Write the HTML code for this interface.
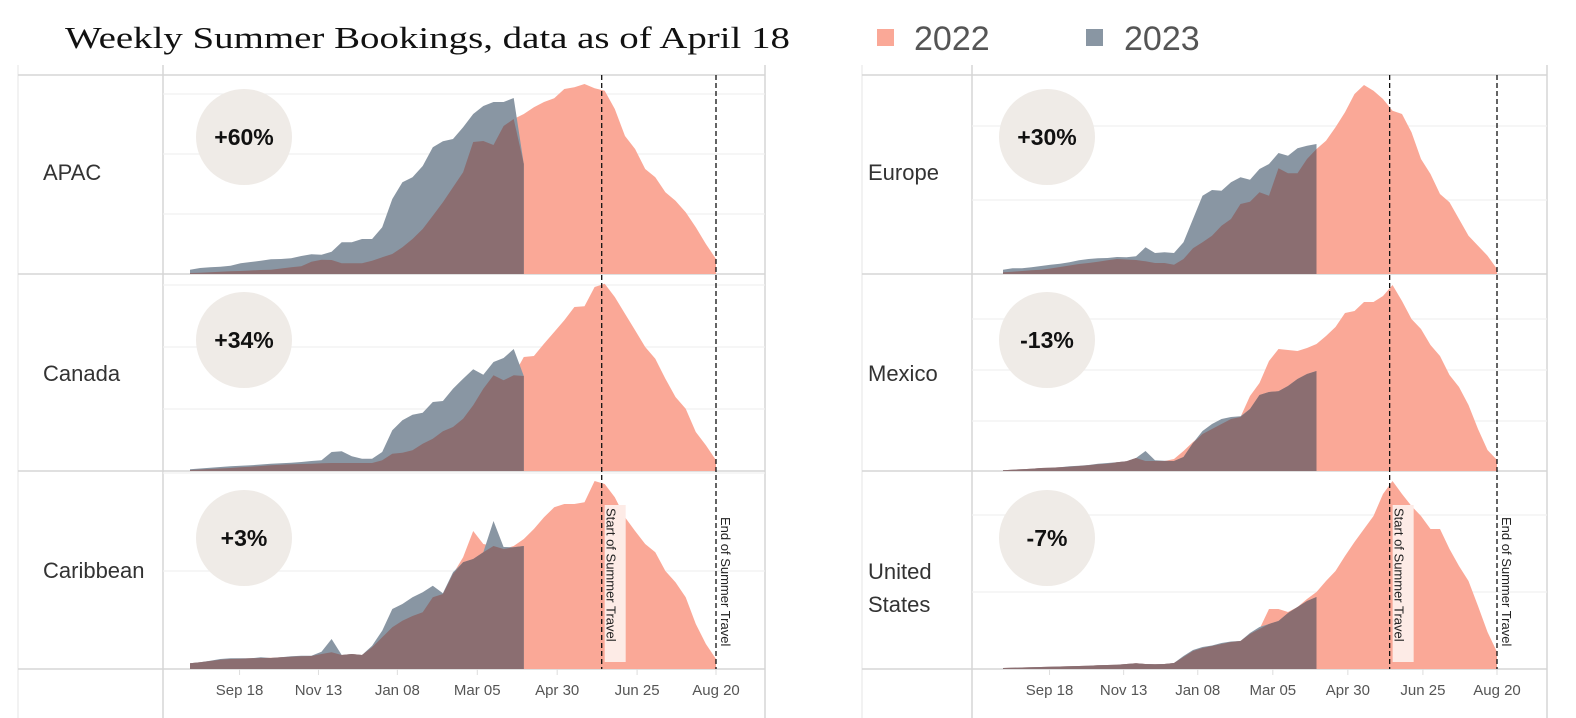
<!DOCTYPE html>
<html><head><meta charset="utf-8"><style>
html,body{margin:0;padding:0;background:#fff;}
svg{display:block;font-family:"Liberation Sans",sans-serif;}
</style></head><body>
<svg id="chart" width="1576" height="718" viewBox="0 0 1576 718" xmlns="http://www.w3.org/2000/svg">
<text x="65" y="48" font-family="'Liberation Serif',serif" font-size="31" fill="#111" textLength="725" lengthAdjust="spacingAndGlyphs">Weekly Summer Bookings, data as of April 18</text>
<g>
<rect x="877" y="29" width="17" height="17" fill="#faa897"/>
<text x="914" y="50" font-size="34" fill="#555">2022</text>
<rect x="1086" y="29" width="17" height="17" fill="#8996a3"/>
<text x="1124" y="50" font-size="34" fill="#555">2023</text>
</g>
<g id="plots"></g>
</svg>
<script>
const regionNames = ["APAC","Canada","Caribbean","Europe","Mexico","United States"];
const pctChange = ["+60%","+34%","+3%","+30%","-13%","-7%"];
const tickLabels = ["Sep 18","Nov 13","Jan 08","Mar 05","Apr 30","Jun 25","Aug 20"];
const tickWeeks = [4.9,12.7,20.5,28.4,36.3,44.2,52];
const startWeek = 40.7;
const endWeek = 52;
const apac2022 = [1,1.3,1.7,2.2,2.7,3,3.5,4,4.3,5.5,6.7,7.7,12.3,14.3,14,10.7,10.7,10.7,13.3,16.7,20,26.7,35,45,58.3,71.7,86.7,101.7,132,133,129,148,155,160,166.7,172,175.7,185,186.7,190,185.7,183.3,165,138,125,105,96.7,81.7,73.3,61.7,46.7,30,15];
const apac2023 = [4.3,6,6.7,7.3,8.3,10.7,12,13.3,14.7,15,15.7,18,19.7,19.3,22.3,31.7,31.7,35,35,46.7,75,91.7,96.7,108,126.7,132.7,135,146.7,160,168,172,172,176,110];
const canada2022 = [1,1.5,2,2.5,3,3.7,4.3,5,5.7,6.2,6.7,7,7.3,7.7,8,8,8,8,8,10.7,17.3,18.3,20.7,27.3,32.3,39.7,44,52.3,65.7,82.3,95.7,90.7,95.7,114,115,127.3,139,150.7,164,164.7,184,187.3,174,157.3,140.7,124,112.3,92.3,74,62.3,39,25.7,10.7];
const canada2023 = [1.7,2.5,3.3,4,4.7,5.2,5.7,6.5,7.3,7.8,8.3,9,10,10.7,19,19.7,14.7,12.3,12.3,19,40.7,50.7,56.3,58.3,69,70,82.3,92.3,101.7,96.3,109,113,122,95];
const carib2022 = [5.7,6.7,8,9.3,10,10.3,10.7,11,11.3,11.7,12.3,12.7,13,15,16.7,14,15,14,21.7,31.7,41.7,48.3,53,56.7,71.7,75,95,111.7,138,125,123,120,123,130,140,151.7,161.7,165,165,166.7,188,185,171.7,151.7,138,125,116.7,98,86.7,71.7,45,25,10];
const carib2023 = [5.7,6.7,8.3,10,10.7,10.7,10.7,11.7,11,11.7,12.7,13.3,13.3,17.3,30,14,15,14,23.3,38.3,60,65,71.7,76.7,83.3,75.7,96.7,106.7,110,116.7,148,122,121.7,123];
const europe2022 = [1.7,2.3,3,3.7,4.3,5.5,7,8.5,10,11,12.3,13.7,15,14.5,14,12.7,11,11,9.3,15,25.7,31.7,38.3,48.3,55,70,72.3,81.7,78.3,105.7,100.7,100.7,115,125,133.3,146.7,161.7,180,189,183.3,175,163.3,160,141.7,115,100,80,71.7,55,38.3,28.3,18.3,5];
const europe2023 = [4.3,5.7,5.7,6.7,8,9.3,10.3,11.7,13.7,15,15.7,16,17,16.7,17.7,26.7,21,21.7,21,31.7,55,78.3,84,83.3,91.7,96.7,94.3,105,110,121,118.3,125.7,128.3,130];
const mexico2022 = [0.7,1.3,1.7,2.3,3,3.3,3.7,4.3,5,5.7,6.7,7.3,8.7,9.7,13,10,10,10,12,20,29,37,42,47,52,54,75,88,110,122,121,120,123,127,135,144,158,160,169,169,175,186,170,152,142,126,115,96,84,66,42,21,11];
const mexico2023 = [0.7,1.3,1.7,2.3,3,3.3,3.7,4.7,5.3,6,7.3,8,8.7,9.7,13,20,10.7,10.3,10,14,28,40,47,52,54,54.7,62,76,79,79.7,85,92,97,100];
const us2022 = [1,1.2,1.5,1.7,2,2.2,2.5,2.8,3,3.3,3.7,4,4.3,5,5.7,5,4.7,5,6,12,18,21,23,25,27,28,35,40,60,60,57,62,70,77,88,98,113,127,140,153,175,188,175,163,153,140,140,120,103,88,63,37,17];
const us2023 = [1,1.2,1.5,1.7,2,2.2,2.5,2.8,3,3.3,3.7,4,4.3,5,5.7,5,4.7,5,6,13,19,22,23.5,26,27.5,28,36,42,45,48,56,62,68,72];
const gridApac = [60,120,180];
const gridCanada = [62,124,186];
const gridCarib = [98,196];
const gridEurope = [74,148];
const gridMexico = [50,101,152];
const gridUs = [77,154];

const NS = "http://www.w3.org/2000/svg";
const root = document.getElementById("plots");
function mk(tag, attrs, parent){ const e=document.createElementNS(NS,tag); for(const k in attrs) e.setAttribute(k,attrs[k]); (parent||root).appendChild(e); return e; }

const panels = [
  {outer:18, axis:163, right:765, x0:190, x1:716, labelX:43, circleX:244},
  {outer:862, axis:972, right:1547, x0:1003, x1:1497, labelX:868, circleX:1047}
];
const rowTops = [75, 274, 471];
const rowBases = [274, 471, 669];
const rows = [
  {p:0,r:0,a:apac2022,b:apac2023,g:gridApac},
  {p:0,r:1,a:canada2022,b:canada2023,g:gridCanada},
  {p:0,r:2,a:carib2022,b:carib2023,g:gridCarib},
  {p:1,r:0,a:europe2022,b:europe2023,g:gridEurope},
  {p:1,r:1,a:mexico2022,b:mexico2023,g:gridMexico},
  {p:1,r:2,a:us2022,b:us2023,g:gridUs}
];
const circleYs = [137,340,538];
const labelYs = [180,381,578];

function xScale(P, w){ return P.x0 + (P.x1-P.x0)*w/52; }
function yScale(base, v){ return base - v; }

function areaPath(P, base, vals){
  let d = "M"+xScale(P,0)+","+base;
  vals.forEach((v,i)=>{ d += " L"+xScale(P,i).toFixed(1)+","+yScale(base,v).toFixed(1); });
  d += " L"+xScale(P,vals.length-1).toFixed(1)+","+base+" Z";
  return d;
}

panels.forEach((P,pi)=>{
  const g = mk("g",{});
  
  
  const lc="#d6d6d6";
  [P.axis, P.right].forEach(x=>{ const l=mk("line",{x1:x,y1:65,x2:x,y2:718,stroke:lc,"stroke-width":1.5},g);
    
     });
  const ol=mk("line",{x1:P.outer,y1:65,x2:P.outer,y2:718,stroke:"#e6e6e6","stroke-width":1},g);
  
  
  [75,274,471,669].forEach(y=>{ const l=mk("line",{x1:P.outer,y1:y,x2:P.right,y2:y,stroke:lc,"stroke-width":1.5},g);
    
     });
  tickLabels.forEach((t,i)=>{
    const x = xScale(P,tickWeeks[i]);
    const tk = mk("line",{x1:x,y1:669,x2:x,y2:675,stroke:"#ddd"},g);
    
    
    const tx = mk("text",{x:x,y:695,"text-anchor":"middle","font-size":15,fill:"#555"},g);
    tx.textContent = t;
    
    
  });
});

rows.forEach((R,ri)=>{
  const P = panels[R.p]; const base = rowBases[R.r];
  const g = mk("g",{});
  
  
  R.g.forEach(v=>{ const l=mk("line",{x1:P.axis,y1:yScale(base,v),x2:P.right,y2:yScale(base,v),stroke:"#f0f0f0","stroke-width":1.2},g);
    
     });
  const a = mk("path",{d:areaPath(P,base,R.a),fill:"#faa897"},g);
  
  
  const b = mk("path",{d:areaPath(P,base,R.b),fill:"#8996a3"},g);
  
  
  const mins = R.b.map((v,i)=>Math.min(v,R.a[i]));
  const o = mk("path",{d:areaPath(P,base,mins),fill:"#8b6e71"},g);
  
  
  const c = mk("circle",{cx:P.circleX,cy:circleYs[R.r],r:48,fill:"#efebe7"},g);
  
  
  const ct = mk("text",{x:P.circleX,y:circleYs[R.r]+8,"text-anchor":"middle","font-size":23,"font-weight":"bold",fill:"#111"},g);
  ct.textContent = pctChange[ri];
  
  
  const name = regionNames[ri];
  if(name==="United States"){
    const t1=mk("text",{x:P.labelX,y:labelYs[R.r]+1,"font-size":22,fill:"#333"},g); t1.textContent="United";
    
    
    const t2=mk("text",{x:P.labelX,y:labelYs[R.r]+34,"font-size":22,fill:"#333"},g); t2.textContent="States";
    
    
  } else {
    const t=mk("text",{x:P.labelX,y:labelYs[R.r],"font-size":22,fill:"#333"},g); t.textContent=name;
    
    
  }
});

panels.forEach((P)=>{
  [startWeek,endWeek].forEach((w,k)=>{
    const x = xScale(P,w);
    const l = mk("line",{x1:x,y1:75,x2:x,y2:669,stroke:"#111","stroke-width":1.3,"stroke-dasharray":"5,3"});
    
    
    if(k===0){
      const bx = mk("rect",{x:x+3,y:505,width:21,height:157,fill:"#fdebe6"});
      
      
    }
    const t = mk("text",{transform:"translate("+(x+5)+","+(k===0?508:517)+") rotate(90)","font-size":13,fill:"#222"});
    t.textContent = k===0?"Start of Summer Travel":"End of Summer Travel";
    
    
  });
});
</script>
</body></html>
